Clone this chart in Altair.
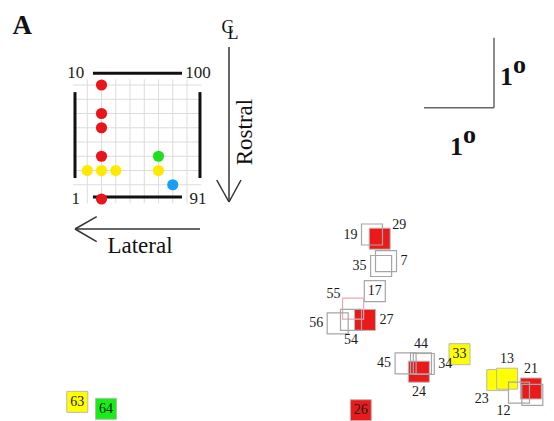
import altair as alt
import pandas as pd

W, H = 538, 413
SERIF = "Liberation Serif"

# ---------------- data ----------------
# receptive-field squares (centre azimuth / elevation in degrees)
rf_id = [19, 29, 7, 35, 17, 55, 27, 56, 54, 45, 44, 34, 24, 33, 23, 13, 12, 21, 1, 26, 63, 64]
rf_az = [5.20, 5.31, 5.40, 5.33, 5.24, 4.93, 5.10, 4.71, 4.90, 5.68, 5.90, 5.94, 5.87, 6.45,
         6.99, 7.13, 7.30, 7.47, 7.49, 5.04, 0.99, 1.40]
rf_el = [2.55, 2.49, 2.17, 2.10, 1.74, 1.49, 1.33, 1.28, 1.33, 0.71, 0.71, 0.70, 0.59, 0.84,
         0.47, 0.49, 0.29, 0.35, 0.26, 0.04, 0.16, 0.06]
rf_group = ["none", "red", "none", "none", "none", "faint", "red", "none", "none", "none", "none",
            "none", "red", "yellow", "yellow", "yellow", "none", "red", "none", "red", "yellow", "green"]
rf_label_side = ["W", "NE", "E", "W", "C", "NW", "E", "W", "S", "W", "N", "E", "S", "C",
                 "SW", "N", "SW", "N", "SE", "C", "C", "C"]
RF_SIZE = 0.3      # degrees
SCALE_DEG = 1      # scale bar length, degrees

# electrode array (10 x 10, electrode 1 bottom-left, 100 top-right)
dot_electrode = [29, 27, 26, 24, 21, 13, 23, 33, 63, 64, 72]
dot_group = ["red"] * 5 + ["yellow"] * 4 + ["green", "blue"]
corner_electrodes = [10, 100, 1, 91]

# ---------------- styles ----------------
FILL = {"red": "#ea1a1a", "yellow": "#ffff00", "green": "#16ee16", "blue": "#1aa2f7"}
DOT = {"red": "#e8161c", "yellow": "#ffe900", "green": "#1fe01f", "blue": "#1a9ff5"}
OUTLINE = {"none": "#a6a6a6", "faint": "#e8aab2"}
PX_PER_DEG = 70
EL_STEP = 14.25

# ---------------- degree layer ----------------
sq = pd.DataFrame({"id": rf_id, "az": rf_az, "el": rf_el, "grp": rf_group, "side": rf_label_side})
half = RF_SIZE / 2
sq["x0"], sq["x1"] = sq["az"] - half, sq["az"] + half
sq["y0"], sq["y1"] = sq["el"] - half, sq["el"] + half
sq["fillc"] = sq["grp"].map(lambda g: FILL.get(g, "#ffffff"))
sq["strokec"] = sq["grp"].map(lambda g: OUTLINE.get(g, "#b4b4b4"))
off = {"E": (14.5, 0, "left"), "NE": (12.5, -14, "left"), "SE": (12.5, 17, "left"),
       "W": (-14.5, 0, "right"), "NW": (-12.5, -15, "right"), "SW": (-8.5, 18.5, "right"),
       "N": (0, -19.5, "center"), "S": (0, 20.5, "center"), "C": (0, 0, "center")}
sq["lx"] = sq["az"] + sq["side"].map(lambda s: off[s][0]) / PX_PER_DEG
sq["ly"] = sq["el"] - sq["side"].map(lambda s: off[s][1]) / PX_PER_DEG
sq["al"] = sq["side"].map(lambda s: off[s][2])
sq["lbl"] = sq["id"].astype(str)

xs = alt.Scale(domain=[0, W / PX_PER_DEG], zero=False, nice=False)
ys = alt.Scale(domain=[(405 - H) / PX_PER_DEG, 405 / PX_PER_DEG], zero=False, nice=False)

is_filled = sq["grp"].isin(["red", "yellow", "green"])
filled = sq[is_filled]
outl = sq[~is_filled]

fills = alt.Chart(filled).mark_rect(stroke="#b8b8b8", strokeWidth=1).encode(
    x=alt.X("x0:Q", scale=xs, axis=None), x2="x1:Q",
    y=alt.Y("y0:Q", scale=ys, axis=None), y2="y1:Q",
    fill=alt.Fill("fillc:N", scale=None))
outlines = alt.Chart(outl).mark_rect(fillOpacity=0, strokeWidth=1.2).encode(
    x=alt.X("x0:Q", scale=xs, axis=None), x2="x1:Q",
    y=alt.Y("y0:Q", scale=ys, axis=None), y2="y1:Q",
    stroke=alt.Stroke("strokec:N", scale=None))

texts = []
for a in ["left", "right", "center"]:
    texts.append(alt.Chart(sq[sq["al"] == a]).mark_text(
        align=a, baseline="middle", font=SERIF, fontSize=14, color="#1a1a1a").encode(
        x=alt.X("lx:Q", scale=xs, axis=None), y=alt.Y("ly:Q", scale=ys, axis=None), text="lbl:N"))

corner_x, corner_y = 6.943, 4.361
bar = pd.DataFrame({"x": [corner_x - SCALE_DEG, corner_x], "x2": [corner_x, corner_x],
                    "y": [corner_y, corner_y], "y2": [corner_y, corner_y + SCALE_DEG]})
scalebar = alt.Chart(bar).mark_rule(color="#666666", strokeWidth=1.5).encode(
    x=alt.X("x:Q", scale=xs, axis=None), x2="x2:Q",
    y=alt.Y("y:Q", scale=ys, axis=None), y2="y2:Q")

deg_layer = alt.layer(fills, outlines, *texts, scalebar)

# ---------------- electrode layer ----------------
ex = alt.Scale(domain=[-65 / EL_STEP, (W - 65) / EL_STEP], zero=False, nice=False)
ey = alt.Scale(domain=[(191 - H) / EL_STEP, 191 / EL_STEP], zero=False, nice=False)

grid = pd.DataFrame(
    [{"x": c, "x2": c, "y": -0.3, "y2": 8.4} for c in range(1, 9)] +
    [{"x": 0, "x2": 9, "y": r, "y2": r} for r in range(1, 9)])
gridl = alt.Chart(grid).mark_rule(color="#dcdcdc", strokeWidth=1).encode(
    x=alt.X("x:Q", scale=ex, axis=None), x2="x2:Q",
    y=alt.Y("y:Q", scale=ey, axis=None), y2="y2:Q")

bars = pd.DataFrame([
    {"x": 1.4, "x2": 7.65, "y": 8.83, "y2": 8.83},
    {"x": 1.4, "x2": 7.65, "y": 0.14, "y2": 0.14},
    {"x": 0.14, "x2": 0.14, "y": 1.47, "y2": 7.5},
    {"x": 8.91, "x2": 8.91, "y": 1.47, "y2": 7.5}])
barl = alt.Chart(bars).mark_rule(color="#111111", strokeWidth=3).encode(
    x=alt.X("x:Q", scale=ex, axis=None), x2="x2:Q",
    y=alt.Y("y:Q", scale=ey, axis=None), y2="y2:Q")

cl = pd.DataFrame({"n": corner_electrodes})
cl["col"] = (cl["n"] - 1) // 10
cl["row"] = (cl["n"] - 1) % 10
cl["lx"] = cl["col"].map(lambda c: 0.2 if c == 0 else 8.77)
cl["ly"] = cl["row"].map(lambda r: 0 if r == 0 else 8.83)
cl["lbl"] = cl["n"].astype(str)
corner_txt = alt.Chart(cl).mark_text(font=SERIF, fontSize=17, baseline="middle", align="center",
                                     color="#222222").encode(
    x=alt.X("lx:Q", scale=ex, axis=None), y=alt.Y("ly:Q", scale=ey, axis=None), text="lbl:N")

dots = pd.DataFrame({"n": dot_electrode, "grp": dot_group})
dots["col"] = (dots["n"] - 1) // 10
dots["row"] = (dots["n"] - 1) % 10
dots["c"] = dots["grp"].map(DOT)
dotl = alt.Chart(dots).mark_circle(size=125, opacity=1).encode(
    x=alt.X("col:Q", scale=ex, axis=None), y=alt.Y("row:Q", scale=ey, axis=None),
    color=alt.Color("c:N", scale=None))

elec_layer = alt.layer(gridl, barl, corner_txt, dotl)

# ---------------- pixel annotations ----------------
one = pd.DataFrame({"k": [0]})


def label(txt, x, y, size, bold=False, align="left", baseline="alphabetic", angle=None):
    props = dict(text=txt, font=SERIF, fontSize=size, fontWeight="bold" if bold else "normal",
                 align=align, baseline=baseline, color="#111111")
    if angle is not None:
        props["angle"] = angle
    return alt.Chart(one).mark_text(**props).encode(x=alt.value(x - 8), y=alt.value(y - 8))


def seg(x1, y1, x2, y2, w=1.5, c="#333333"):
    return alt.Chart(one).mark_rule(color=c, strokeWidth=w).encode(
        x=alt.value(x1 - 8), y=alt.value(y1 - 8), x2=alt.value(x2 - 8), y2=alt.value(y2 - 8))


annos = [
    label("A", 12.5, 34.3, 27, bold=True),
    label("C", 227.5, 28, 18, align="center", baseline="middle"),
    label("L", 233, 34, 18, align="center", baseline="middle"),
    seg(229, 47, 229, 202), seg(216.7, 180, 229, 202), seg(241, 180, 229, 202),
    label("Rostral", 245, 132, 23, align="center", baseline="middle", angle=270),
    seg(75, 229, 200, 229), seg(96.7, 216.7, 75, 229), seg(96.7, 241.7, 75, 229),
    label("Lateral", 140, 253, 23, align="center"),
    label("1", 500, 85, 26, bold=True), label("o", 513, 73.3, 26, bold=True),
    label("1", 450, 155, 26, bold=True), label("o", 463, 143.3, 26, bold=True),
]

chart = alt.layer(deg_layer, elec_layer, *annos).resolve_scale(
    x="independent", y="independent").properties(
    width=W, height=H, padding=0, autosize=alt.AutoSizeParams(type="none")
).configure_view(stroke=None)

chart.save("out.html", embed_options={"renderer": "svg", "actions": False})
